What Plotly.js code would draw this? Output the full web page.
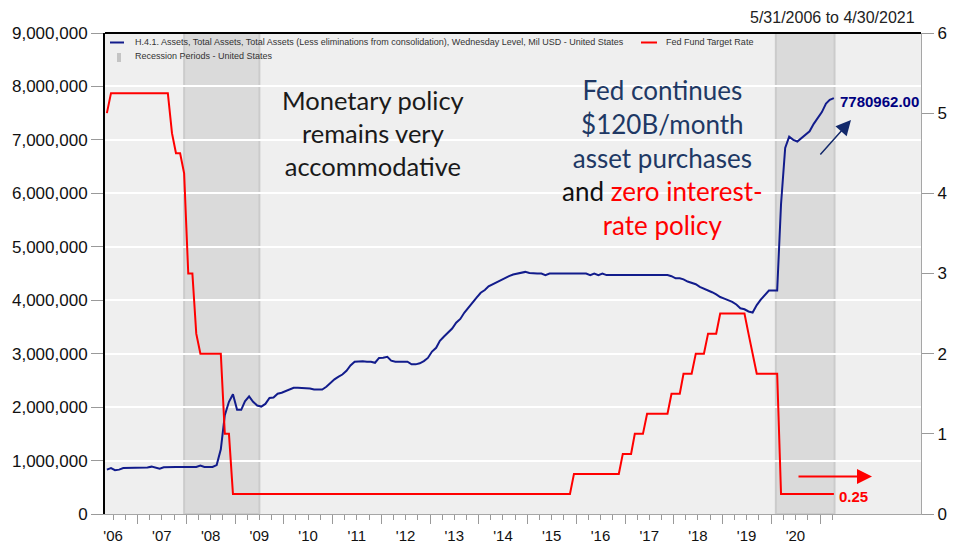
<!DOCTYPE html>
<html>
<head>
<meta charset="utf-8">
<script src="https://cdn.plot.ly/plotly-3.0.1.min.js"></script>
<style>
html,body{margin:0;padding:0;background:#ffffff;}
#chart{width:953px;height:546px;}
</style>
</head>
<body>
<div id="chart"></div>
<script>
// ---------------- DATA ----------------
// Monthly observations, May 2006 .. Apr 2021 (180 months)
const firstYear = 2006, firstMonth = 5, monthCount = 180;

// H.4.1 Total Assets, Mil USD
const totalAssets = [
  // 2006 May-Dec
  830000, 860000, 820000, 830000, 860000, 860000, 860000, 860000,
  // 2007
  860000, 860000, 870000, 886000, 873000, 848000, 875000, 880000, 880000, 880000, 880000, 880000,
  // 2008
  880000, 880000, 880000, 905000, 880000, 880000, 880000, 915000, 1210000, 1850000, 2100000, 2240000,
  // 2009
  1950000, 1950000, 2110000, 2200000, 2100000, 2030000, 2010000, 2060000, 2170000, 2180000, 2250000, 2270000,
  // 2010
  2300000, 2340000, 2360000, 2360000, 2360000, 2360000, 2350000, 2330000, 2330000, 2330000, 2380000, 2450000,
  // 2011
  2520000, 2570000, 2610000, 2680000, 2780000, 2850000, 2860000, 2860000, 2850000, 2850000, 2830000, 2920000,
  // 2012
  2925000, 2940000, 2870000, 2850000, 2850000, 2850000, 2850000, 2800000, 2800000, 2820000, 2860000, 2920000,
  // 2013
  3040000, 3110000, 3240000, 3320000, 3390000, 3470000, 3580000, 3650000, 3770000, 3870000, 3960000, 4050000,
  // 2014
  4140000, 4190000, 4260000, 4300000, 4340000, 4380000, 4420000, 4450000, 4480000, 4500000, 4510000, 4530000,
  // 2015
  4510000, 4500000, 4500000, 4500000, 4470000, 4500000, 4500000, 4500000, 4500000, 4500000, 4500000, 4500000,
  // 2016
  4500000, 4500000, 4500000, 4470000, 4500000, 4470000, 4500000, 4470000, 4470000, 4470000, 4470000, 4470000,
  // 2017
  4470000, 4470000, 4470000, 4470000, 4470000, 4470000, 4470000, 4470000, 4470000, 4470000, 4470000, 4450000,
  // 2018
  4410000, 4410000, 4390000, 4350000, 4330000, 4300000, 4250000, 4220000, 4180000, 4150000, 4110000, 4060000,
  // 2019
  4030000, 4000000, 3970000, 3920000, 3850000, 3830000, 3790000, 3770000, 3910000, 4010000, 4100000, 4180000,
  // 2020
  4180000, 4180000, 5800000, 6850000, 7060000, 7000000, 6970000, 7030000, 7100000, 7160000, 7300000, 7410000,
  // 2021 Jan-Apr
  7520000, 7680000, 7750000, 7780962
];

// Fed Fund Target Rate, percent
const fedFundTarget = [
  // 2006 May-Dec
  5.0, 5.25, 5.25, 5.25, 5.25, 5.25, 5.25, 5.25,
  // 2007
  5.25, 5.25, 5.25, 5.25, 5.25, 5.25, 5.25, 5.25, 4.75, 4.5, 4.5, 4.25,
  // 2008
  3.0, 3.0, 2.25, 2.0, 2.0, 2.0, 2.0, 2.0, 2.0, 1.0, 1.0, 0.25,
  // 2009
  0.25, 0.25, 0.25, 0.25, 0.25, 0.25, 0.25, 0.25, 0.25, 0.25, 0.25, 0.25,
  // 2010
  0.25, 0.25, 0.25, 0.25, 0.25, 0.25, 0.25, 0.25, 0.25, 0.25, 0.25, 0.25,
  // 2011
  0.25, 0.25, 0.25, 0.25, 0.25, 0.25, 0.25, 0.25, 0.25, 0.25, 0.25, 0.25,
  // 2012
  0.25, 0.25, 0.25, 0.25, 0.25, 0.25, 0.25, 0.25, 0.25, 0.25, 0.25, 0.25,
  // 2013
  0.25, 0.25, 0.25, 0.25, 0.25, 0.25, 0.25, 0.25, 0.25, 0.25, 0.25, 0.25,
  // 2014
  0.25, 0.25, 0.25, 0.25, 0.25, 0.25, 0.25, 0.25, 0.25, 0.25, 0.25, 0.25,
  // 2015
  0.25, 0.25, 0.25, 0.25, 0.25, 0.25, 0.25, 0.25, 0.25, 0.25, 0.25, 0.5,
  // 2016
  0.5, 0.5, 0.5, 0.5, 0.5, 0.5, 0.5, 0.5, 0.5, 0.5, 0.5, 0.75,
  // 2017
  0.75, 0.75, 1.0, 1.0, 1.0, 1.25, 1.25, 1.25, 1.25, 1.25, 1.25, 1.5,
  // 2018
  1.5, 1.5, 1.75, 1.75, 1.75, 2.0, 2.0, 2.0, 2.25, 2.25, 2.25, 2.5,
  // 2019
  2.5, 2.5, 2.5, 2.5, 2.5, 2.5, 2.25, 2.0, 1.75, 1.75, 1.75, 1.75,
  // 2020
  1.75, 1.75, 0.25, 0.25, 0.25, 0.25, 0.25, 0.25, 0.25, 0.25, 0.25, 0.25,
  // 2021 Jan-Apr
  0.25, 0.25, 0.25, 0.25
];

const yearTickLabels = ["'06","'07","'08","'09","'10","'11","'12","'13","'14","'15","'16","'17","'18","'19","'20"];
const recessionStarts = ['2007-12-15', '2020-02-05'];
const recessionEnds   = ['2009-07-01', '2021-04-20'];

const seriesNameAssets = 'H.4.1. Assets, Total Assets, Total Assets (Less eliminations from consolidation), Wednesday Level, Mil USD - United States';
const seriesNameRate = 'Fed Fund Target Rate';
const seriesNameRecession = 'Recession Periods - United States';
const dateRangeText = '5/31/2006 to 4/30/2021';
const lastAssetsLabel = '7780962.00';
const lastRateLabel = '0.25';

// ---------------- HELPERS ----------------
function pad2(v){ return (v < 10 ? '0' : '') + v; }
const monthDates = [];
for (let i = 0; i < monthCount; i++) {
  const m0 = firstMonth - 1 + i;
  const y = firstYear + Math.floor(m0 / 12);
  const m = (m0 % 12) + 1;
  monthDates.push(y + '-' + pad2(m) + '-15');
}
const majorTicks = [];
for (let y = 2007; y <= 2021; y++) majorTicks.push(y + '-01-01');
const minorTicks = [];
for (let y = 2006; y <= 2021; y++) {
  ['04','07','10'].forEach(function(m){
    const d = y + '-' + m + '-01';
    if (d >= '2006-06-01' && d <= '2021-04-01') minorTicks.push(d);
  });
}
const labelTicks = [];
for (let y = 2006; y <= 2020; y++) labelTicks.push(y + '-07-01');

const xRange = ['2006-05-01', '2023-01-28'];

// plot-area geometry (pixels) for placing decorations
const ML = 105, MR = 32, MT = 33, MB = 32, FW = 953, FH = 546;
const PW = FW - ML - MR, PH = FH - MT - MB;
function px(x){ return (x - ML) / PW; }
function py(y){ return (FH - MB - y) / PH; }

const sansFont = '"Liberation Sans", Arial, Helvetica, sans-serif';
const bigFont = 'Lato, "Open Sans", sans-serif';

// ---------------- TRACES ----------------
const traces = [
  {
    type: 'scatter', mode: 'lines', name: seriesNameAssets,
    x: monthDates, y: totalAssets, xaxis: 'x', yaxis: 'y',
    line: {color: '#121c8c', width: 2}, hoverinfo: 'skip'
  },
  {
    type: 'scatter', mode: 'lines', name: seriesNameRate,
    x: monthDates, y: fedFundTarget, xaxis: 'x2', yaxis: 'y2',
    line: {color: '#ff0000', width: 2}, hoverinfo: 'skip'
  }
];

// ---------------- SHAPES ----------------
const shapes = [];
for (let i = 0; i < recessionStarts.length; i++) {
  shapes.push({
    type: 'rect', xref: 'x', yref: 'paper',
    x0: recessionStarts[i], x1: recessionEnds[i], y0: 0, y1: 1,
    fillcolor: '#dadada', line: {color: '#cbcbcb', width: 2}, layer: 'between'
  });
}
// top frame line
shapes.push({type: 'line', xref: 'paper', yref: 'paper', x0: 0, x1: 1, y0: 1, y1: 1,
  line: {color: '#000000', width: 2}, layer: 'above'});
// legend samples
shapes.push({type: 'line', xref: 'paper', yref: 'paper', x0: px(110), x1: px(124), y0: py(42.5), y1: py(42.5),
  line: {color: '#121c8c', width: 2}, layer: 'above'});
shapes.push({type: 'line', xref: 'paper', yref: 'paper', x0: px(641), x1: px(657), y0: py(42.5), y1: py(42.5),
  line: {color: '#ff0000', width: 2}, layer: 'above'});
shapes.push({type: 'rect', xref: 'paper', yref: 'paper', x0: px(117), x1: px(121), y0: py(62), y1: py(53),
  fillcolor: '#c4c4c4', line: {width: 0}, layer: 'above'});

// ---------------- ANNOTATIONS ----------------
const annotations = [
  {xref: 'paper', yref: 'paper', x: px(133), y: py(42), xanchor: 'left', yanchor: 'middle', showarrow: false,
   text: seriesNameAssets, font: {family: sansFont, size: 9, color: '#333333'}},
  {xref: 'paper', yref: 'paper', x: px(664), y: py(42), xanchor: 'left', yanchor: 'middle', showarrow: false,
   text: seriesNameRate, font: {family: sansFont, size: 9, color: '#333333'}},
  {xref: 'paper', yref: 'paper', x: px(133), y: py(56), xanchor: 'left', yanchor: 'middle', showarrow: false,
   text: seriesNameRecession, font: {family: sansFont, size: 9, color: '#333333'}},
  {xref: 'paper', yref: 'paper', x: px(917), y: py(17), xanchor: 'right', yanchor: 'middle', showarrow: false,
   text: dateRangeText, font: {family: sansFont, size: 16, color: '#222222'}},
  {xref: 'paper', yref: 'paper', x: px(373), y: py(132.5), xanchor: 'center', yanchor: 'middle', showarrow: false,
   align: 'center', text: 'Monetary policy<br>remains very<br>accommodative',
   font: {family: bigFont, size: 25.5, color: '#1a1a1a'}},
  {xref: 'paper', yref: 'paper', x: px(662), y: py(157), xanchor: 'center', yanchor: 'middle', showarrow: false,
   align: 'center',
   text: 'Fed continues<br>$120B/month<br>asset purchases<br><span style="color:#111111">and</span> <span style="color:#ff0000">zero interest-</span><br><span style="color:#ff0000">rate policy</span>',
   font: {family: bigFont, size: 26, color: '#203864'}},
  {xref: 'paper', yref: 'paper', x: px(838), y: py(101.7), xanchor: 'left', yanchor: 'middle', showarrow: false,
   text: '<b>' + lastAssetsLabel + '</b>', font: {family: sansFont, size: 15, color: '#000080'}},
  {xref: 'paper', yref: 'paper', x: px(837), y: py(496.7), xanchor: 'left', yanchor: 'middle', showarrow: false,
   text: '<b>' + lastRateLabel + '</b>', font: {family: sansFont, size: 15, color: '#ff0000'}},
  {xref: 'paper', yref: 'paper', x: px(851), y: py(120), ax: -32, ay: 36, text: '', showarrow: true,
   arrowhead: 2, arrowsize: 2, arrowwidth: 1.5, arrowcolor: '#13296b'},
  {xref: 'paper', yref: 'paper', x: px(872), y: py(476.5), ax: -75, ay: 0, text: '', showarrow: true,
   arrowhead: 2, arrowsize: 1.5, arrowwidth: 2, arrowcolor: '#ff0000'}
];

// ---------------- LAYOUT ----------------
const tickGray = '#9a9a9a';
const layout = {
  width: FW, height: FH,
  margin: {l: ML, r: MR, t: MT, b: MB, pad: 0},
  paper_bgcolor: '#ffffff',
  plot_bgcolor: '#efefef',
  showlegend: false,
  font: {family: sansFont, color: '#111111'},
  xaxis: {
    type: 'date', range: xRange, fixedrange: true,
    tickmode: 'array', tickvals: majorTicks, showticklabels: false,
    ticks: 'outside', ticklen: 9, tickwidth: 1, tickcolor: tickGray,
    minor: {tickmode: 'array', tickvals: minorTicks, ticks: 'outside', ticklen: 5, tickwidth: 1, tickcolor: tickGray, showgrid: false},
    showgrid: false, zeroline: false,
    showline: true, linecolor: '#a6a6a6', linewidth: 1
  },
  xaxis2: {
    type: 'date', range: xRange, fixedrange: true,
    overlaying: 'x', anchor: 'y2', side: 'bottom',
    tickmode: 'array', tickvals: labelTicks, ticktext: yearTickLabels,
    ticks: 'outside', ticklen: 8, tickcolor: 'rgba(0,0,0,0)',
    tickfont: {family: sansFont, size: 15, color: '#111111'},
    showgrid: false, zeroline: false, showline: false
  },
  yaxis: {
    range: [0, 9000000], fixedrange: true,
    tickmode: 'linear', tick0: 0, dtick: 1000000, tickformat: ',d',
    ticks: 'outside', ticklen: 12, tickwidth: 1, tickcolor: tickGray,
    tickfont: {family: sansFont, size: 17, color: '#111111'},
    showgrid: true, gridcolor: '#ffffff', gridwidth: 2,
    zeroline: false, showline: true, linecolor: '#000000', linewidth: 2
  },
  yaxis2: {
    range: [0, 6], fixedrange: true, overlaying: 'y', side: 'right', anchor: 'x2',
    tickmode: 'linear', tick0: 0, dtick: 1,
    ticks: 'outside', ticklen: 12, tickwidth: 1, tickcolor: tickGray,
    tickfont: {family: sansFont, size: 17, color: '#111111'},
    showgrid: false, zeroline: false, showline: true, linecolor: '#a6a6a6', linewidth: 1
  },
  shapes: shapes,
  annotations: annotations
};

Plotly.newPlot('chart', traces, layout, {staticPlot: true, displayModeBar: false});
</script>
</body>
</html>
